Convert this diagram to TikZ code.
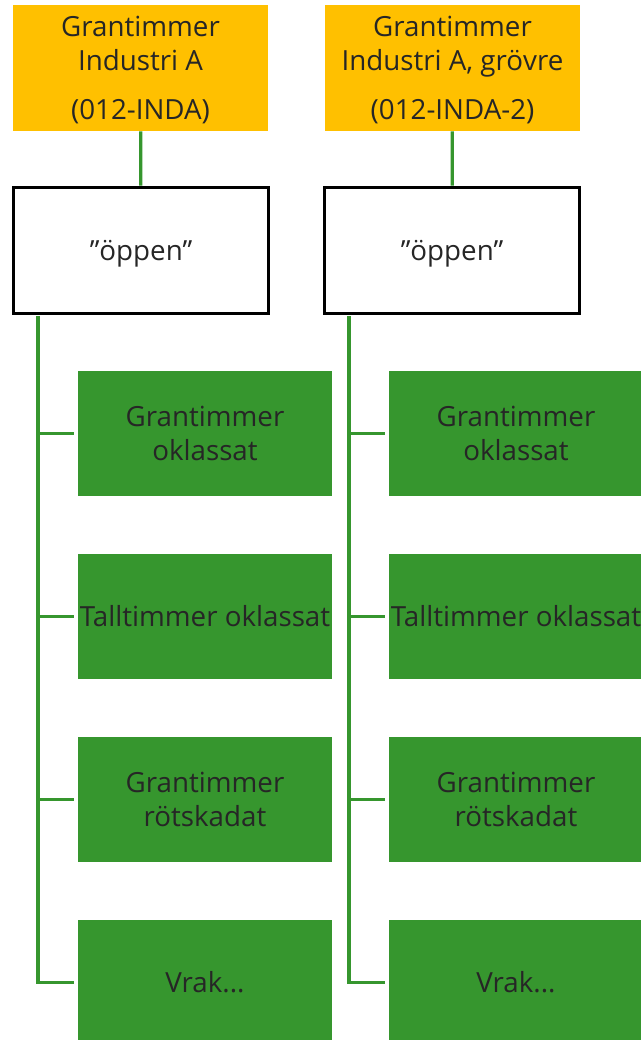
\documentclass[tikz,border=0pt]{standalone}
\usepackage{fontspec}
\setmainfont{Open Sans}
\usepackage{tikz}
\definecolor{gold}{RGB}{255,192,0}
\definecolor{leaf}{RGB}{54,150,46}
\definecolor{ink}{RGB}{38,38,38}
\newcommand{\headtext}[3]{\raisebox{-2.5pt}[\height][\depth]{\begin{tabular}{@{}c@{}}#1\\#2\\[11.5pt]#3\end{tabular}}}

\begin{document}
\begin{tikzpicture}
			[x=0.75pt, y=-0.75pt, font=\fontsize{20.8}{25.5}\selectfont, text=ink,
			head/.style = {fill=gold, minimum width=191.25pt, minimum height=94.5pt, inner sep=0pt},
			open/.style = {draw=black, line width=2.2pt, fill=white, minimum width=191.25pt, minimum height=95pt, inner sep=0pt},
			leafbox/.style = {fill=leaf, align=center, minimum width=190.5pt, minimum height=94pt, inner sep=0pt},
			link/.style = {draw=leaf, line width=2.4pt}]
			\useasboundingbox (0,0) rectangle (641,1040);
			% top row
			\node[head] (yA) at (140.5,68) {\headtext{Grantimmer}{Industri A}{(012-INDA)}};
			\node[head] (yB) at (452.5,68) {\headtext{Grantimmer}{Industri A, grövre}{(012-INDA-2)}};
			\node[open] (oA) at (141,250.5) {\raisebox{-7.5pt}[0pt][0pt]{”öppen”}};
			\node[open] (oB) at (452,250.5) {\raisebox{-7.5pt}[0pt][0pt]{”öppen”}};
			% left column
			\node[leafbox] (gA1) at (205,433.5) {Grantimmer\\oklassat};
			\node[leafbox] (gA2) at (205,616.5) {Talltimmer oklassat};
			\node[leafbox] (gA3) at (205,799.5) {Grantimmer\\rötskadat};
			\node[leafbox] (gA4) at (205,982.5) {Vrak...};
			% right column
			\node[leafbox] (gB1) at (516,433.5) {Grantimmer\\oklassat};
			\node[leafbox] (gB2) at (516,616.5) {Talltimmer oklassat};
			\node[leafbox] (gB3) at (516,799.5) {Grantimmer\\rötskadat};
			\node[leafbox] (gB4) at (516,982.5) {Vrak...};
			\coordinate (tA) at (38,316);
			\coordinate (tB) at (349,316);
            \draw[link] (yA) -- (oA);
            \draw[link] (yB) -- (oB);
            \draw[link, shorten >=3pt] (tA) |- (gA4.west);
            \draw[link, shorten >=3pt] (tA |- gA1.west) -- (gA1.west);
            \draw[link, shorten >=3pt] (tA |- gA2.west) -- (gA2.west);
            \draw[link, shorten >=3pt] (tA |- gA3.west) -- (gA3.west);
            \draw[link, shorten >=3pt] (tB) |- (gB4.west);
            \draw[link, shorten >=3pt] (tB |- gB1.west) -- (gB1.west);
            \draw[link, shorten >=3pt] (tB |- gB2.west) -- (gB2.west);
            \draw[link, shorten >=3pt] (tB |- gB3.west) -- (gB3.west);
		\end{tikzpicture}
\end{document}
